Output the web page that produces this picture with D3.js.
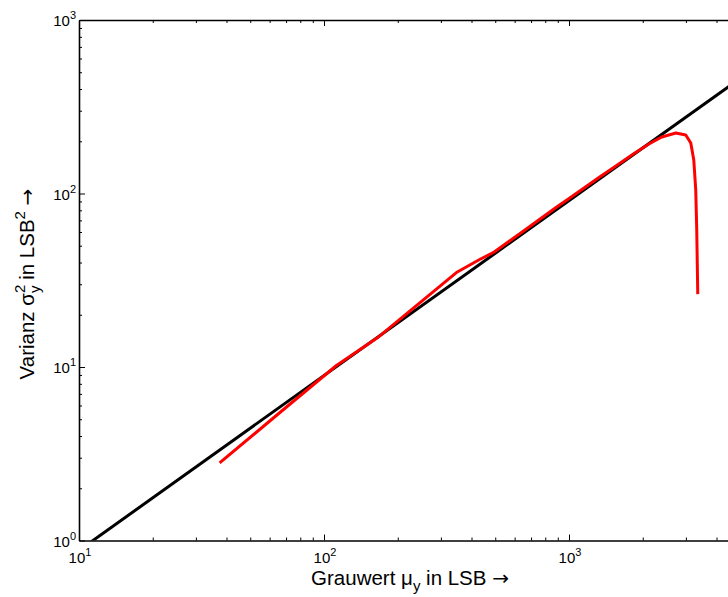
<!DOCTYPE html>
<html>
<head>
<meta charset="utf-8">
<script src="https://cdn.jsdelivr.net/npm/d3@7"></script>
<style>
  body { margin: 0; background: #fff; }
  svg { display: block; }
  text { font-family: "Liberation Sans", Arial, Helvetica, sans-serif; fill: #000; }
  .arrow { font-family: "DejaVu Sans", sans-serif; }
</style>
</head>
<body>
<svg id="chart" width="728" height="597"></svg>
<script>
// Photon transfer: measured variance against mean gray value (LSB)
const meanGray = [37.5, 65.9, 112.4, 168, 350, 430, 495, 644, 885, 1028, 1325, 1554, 1805, 2118, 2392, 2728, 2996, 3141, 3231, 3291, 3322, 3354];
const variance = [2.80, 5.45, 10.2, 15.0, 35.3, 41.5, 46.0, 60.0, 83.1, 96.1, 123.7, 144.0, 166.7, 192.9, 211.7, 223.2, 217.4, 195.5, 156.0, 104.8, 61.6, 26.3];

// Linear model line
const fitMean = [10, 5000];
const fitVariance = [0.876, 461];

// Decade exponents that carry labels
const xLabelExp = [1, 2, 3];
const yLabelExp = [0, 1, 2, 3];

const svg = d3.select("#chart");
const plotLeft = 79, plotTop = 20, plotBottom = 540.5, plotRight = 814;

const x = d3.scaleLog().domain([10, 10000]).range([plotLeft, plotRight]);
const y = d3.scaleLog().domain([1, 1000]).range([plotBottom, plotTop]);

// tick positions: every integer multiple within each decade
function logTicks(lo, hi) {
  const major = [], minor = [];
  for (let e = lo; e < hi; e++) {
    const base = Math.pow(10, e);
    major.push(base);
    for (let k = 2; k <= 9; k++) minor.push(k * base);
  }
  major.push(Math.pow(10, hi));
  return { major, minor };
}
const xt = logTicks(1, 4);
const yt = logTicks(0, 3);

function styleAxis(g, width) {
  g.selectAll(".domain").attr("stroke", "#000").attr("stroke-width", width);
  g.selectAll(".tick line").attr("stroke", "#000").attr("stroke-width", 1);
  g.selectAll(".tick text").remove();
}

// bottom axis
svg.append("g").attr("transform", `translate(0,${plotBottom})`)
  .call(d3.axisBottom(x).tickValues(xt.major).tickSize(-6).tickSizeOuter(0))
  .call(g => styleAxis(g, 1.6));
svg.append("g").attr("transform", `translate(0,${plotBottom})`)
  .call(d3.axisBottom(x).tickValues(xt.minor).tickSize(-3).tickSizeOuter(0))
  .call(g => { styleAxis(g, 1.6); g.select(".domain").remove(); });

// top axis
svg.append("g").attr("transform", `translate(0,${plotTop})`)
  .call(d3.axisTop(x).tickValues(xt.major).tickSize(-6).tickSizeOuter(0))
  .call(g => styleAxis(g, 1.6));
svg.append("g").attr("transform", `translate(0,${plotTop})`)
  .call(d3.axisTop(x).tickValues(xt.minor).tickSize(-3).tickSizeOuter(0))
  .call(g => { styleAxis(g, 1.6); g.select(".domain").remove(); });

// left axis
svg.append("g").attr("transform", `translate(${plotLeft},0)`)
  .call(d3.axisLeft(y).tickValues(yt.major).tickSize(-6).tickSizeOuter(0))
  .call(g => styleAxis(g, 1.6));
svg.append("g").attr("transform", `translate(${plotLeft},0)`)
  .call(d3.axisLeft(y).tickValues(yt.minor).tickSize(-3).tickSizeOuter(0))
  .call(g => { styleAxis(g, 1.6); g.select(".domain").remove(); });

// right axis
svg.append("g").attr("transform", `translate(${plotRight},0)`)
  .call(d3.axisRight(y).tickValues(yt.major).tickSize(-6).tickSizeOuter(0))
  .call(g => styleAxis(g, 1.6));

// tick labels as 10 with exponent
function powerLabel(sel, exp) {
  sel.append("tspan").text("10");
  sel.append("tspan").attr("dy", -7).attr("font-size", 11).text(exp);
}
xLabelExp.forEach(e => {
  svg.append("text")
    .attr("x", x(Math.pow(10, e)) + 1)
    .attr("y", plotBottom + 22.5)
    .attr("text-anchor", "middle")
    .attr("font-size", 15)
    .call(s => powerLabel(s, e));
});
yLabelExp.forEach(e => {
  svg.append("text")
    .attr("x", plotLeft - 3)
    .attr("y", y(Math.pow(10, e)) + 6)
    .attr("text-anchor", "end")
    .attr("font-size", 15)
    .call(s => powerLabel(s, e));
});

// axis titles
const xTitle = svg.append("text")
  .attr("x", 410).attr("y", 585)
  .attr("text-anchor", "middle")
  .attr("font-size", 20.5);
xTitle.append("tspan").text("Grauwert μ");
xTitle.append("tspan").attr("dy", 6).attr("font-size", 15).text("y");
xTitle.append("tspan").attr("dy", -6).text(" in LSB ");
xTitle.append("tspan").attr("class", "arrow").attr("font-size", 20).text("→");

const yTitle = svg.append("text")
  .attr("transform", "translate(34,284) rotate(-90)")
  .attr("text-anchor", "middle")
  .attr("font-size", 20.5);
yTitle.append("tspan").text("Varianz σ");
yTitle.append("tspan").attr("dy", -9).attr("font-size", 15).text("2");
yTitle.append("tspan").attr("dx", -8.3).attr("dy", 15).attr("font-size", 15).text("y");
yTitle.append("tspan").attr("dy", -6).text(" in LSB");
yTitle.append("tspan").attr("dy", -9).attr("font-size", 15).text("2");
yTitle.append("tspan").attr("dy", 9).text("  ");
yTitle.append("tspan").attr("class", "arrow").attr("font-size", 20).text("→");

// plot area clip
svg.append("defs").append("clipPath").attr("id", "plot-clip")
  .append("rect").attr("x", plotLeft).attr("y", plotTop)
  .attr("width", plotRight - plotLeft).attr("height", plotBottom - plotTop);

const plot = svg.append("g").attr("clip-path", "url(#plot-clip)");

const line = d3.line().x(d => x(d[0])).y(d => y(d[1]));

plot.append("path")
  .datum(d3.zip(fitMean, fitVariance))
  .attr("d", line)
  .attr("fill", "none")
  .attr("stroke", "#000")
  .attr("stroke-width", 3);

plot.append("path")
  .datum(d3.zip(meanGray, variance))
  .attr("d", line.curve(d3.curveLinear))
  .attr("fill", "none")
  .attr("stroke", "#ff0000")
  .attr("stroke-width", 3)
  .attr("stroke-linejoin", "round")
  .attr("stroke-linecap", "butt");
</script>
</body>
</html>
